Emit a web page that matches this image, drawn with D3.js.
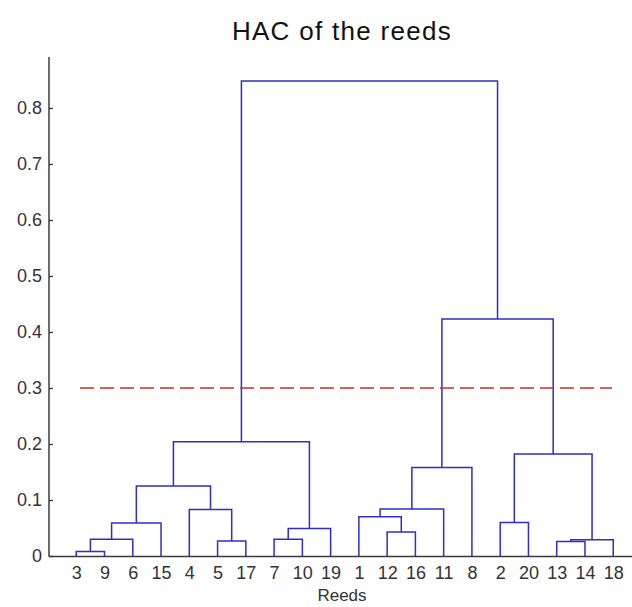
<!DOCTYPE html>
<html><head><meta charset="utf-8">
<script src="https://cdn.jsdelivr.net/npm/d3@7"></script>
<style>body{margin:0;background:#fff;}svg{display:block;font-family:"Liberation Sans",Arial,sans-serif;}</style>
</head><body>
<script>
// Linkage (MATLAB style): node ids 1..20 are reeds, 21.. are merges
const linkLeft   = [3, 13, 5, 22, 21, 7, 12, 26, 25, 2, 1, 4, 31, 29, 33, 30, 34, 35, 37];
const linkRight  = [9, 14, 17, 18, 6, 10, 16, 19, 15, 20, 27, 23, 11, 32, 8, 24, 28, 36, 38];
const linkHeight = [0.008, 0.026, 0.027, 0.029, 0.030, 0.030, 0.043, 0.049, 0.059, 0.060,
                    0.070, 0.083, 0.084, 0.125, 0.158, 0.182, 0.204, 0.423, 0.848];
const nLeaves = 20;
const cutoff = 0.3;
const yTicks = [0, 0.1, 0.2, 0.3, 0.4, 0.5, 0.6, 0.7, 0.8];
const titleText = "HAC of the reeds";
const xLabelText = "Reeds";

const W = 632, H = 607;
const svg = d3.select("body").append("svg").attr("width", W).attr("height", H);

// leaf order by traversal
const root = nLeaves + linkLeft.length;
function kids(id){ const k = id - nLeaves - 1; return [linkLeft[k], linkRight[k]]; }
const order = [];
(function walk(id){ if (id <= nLeaves) { order.push(id); return; } const [a,b] = kids(id); walk(a); walk(b); })(root);

const x = d3.scaleLinear().domain([0, nLeaves + 1]).range([48, 641.5]);
const y = d3.scaleLinear().domain([0, 0.891]).range([556, 57]);

const posX = {}, posY = {};
order.forEach((id, i) => { posX[id] = x(i + 1); posY[id] = y(0); });
const blue = "#2e2ec8";
const g = svg.append("g");
for (let k = 0; k < linkLeft.length; k++) {
  const id = nLeaves + 1 + k;
  const a = linkLeft[k], b = linkRight[k];
  const hy = y(linkHeight[k]);
  posX[id] = (posX[a] + posX[b]) / 2; posY[id] = hy;
  g.append("path")
    .attr("d", `M${posX[a]},${posY[a]}V${hy}H${posX[b]}V${posY[b]}`)
    .attr("fill", "none").attr("stroke", blue).attr("stroke-width", 1.5);
}

// axes
const axisColor = "#3a3a3a";
const yAxis = d3.axisLeft(y).tickValues(yTicks).tickSize(-4).tickPadding(7)
  .tickFormat(d => d === 0 ? "0" : d3.format(".1f")(d));
const ya = svg.append("g").attr("transform", `translate(${x(0) + 1},0)`).call(yAxis);
ya.select(".domain").attr("d", `M0,${y(0)}V${y(0.891)}`).attr("stroke", axisColor).attr("stroke-width", 1.5);
ya.selectAll(".tick line").attr("stroke", axisColor).attr("stroke-width", 1.3);
ya.selectAll(".tick text").attr("fill", "#333").style("font-size", "18px").style("font-family", "Liberation Sans, Arial, sans-serif");

const xAxis = d3.axisBottom(x).tickValues(d3.range(1, nLeaves + 1)).tickSize(0).tickPadding(10)
  .tickFormat(i => order[i - 1]);
const xa = svg.append("g").attr("transform", `translate(0,${y(0)})`).call(xAxis);
xa.select(".domain").attr("stroke", axisColor).attr("stroke-width", 1.5);
xa.selectAll(".tick text").attr("fill", "#333").style("font-size", "18px").style("font-family", "Liberation Sans, Arial, sans-serif");

// cutoff line
svg.append("line").attr("x1", 80).attr("x2", 612).attr("y1", y(cutoff)).attr("y2", y(cutoff))
  .attr("stroke", "#d42828").attr("stroke-width", 1.5).attr("stroke-dasharray", "14,6");

svg.append("text").attr("x", 342).attr("y", 40).attr("text-anchor", "middle")
  .style("font-size", "26px").style("letter-spacing", "1.3px").attr("fill", "#111").text(titleText);
svg.append("text").attr("x", 342).attr("y", 601).attr("text-anchor", "middle")
  .style("font-size", "17px").attr("fill", "#333").text(xLabelText);
</script>
</body></html>
